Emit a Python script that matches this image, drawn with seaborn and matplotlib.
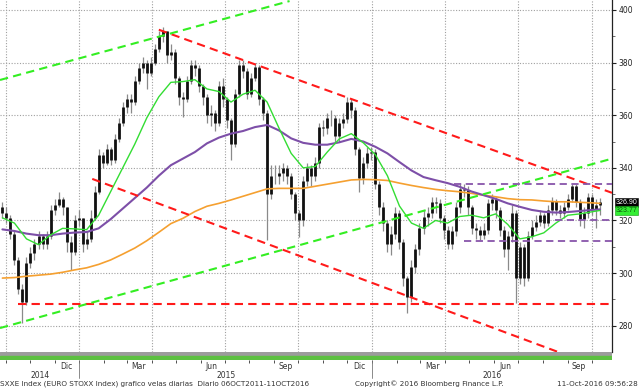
import pandas as pd
import numpy as np
import seaborn as sns
import matplotlib.pyplot as plt
import matplotlib.dates as mdates
from matplotlib import transforms
from matplotlib.lines import Line2D

sns.set_theme(style='white')
plt.rcParams['font.family'] = ['DejaVu Sans']

# candles, one every 5 days up to 11-Oct-2016
close = [323, 321, 315, 305, 294, 289, 304, 307.5, 311, 314,
         311, 314, 324, 326, 328, 325, 312, 308, 320, 321,
         311, 313, 321, 331, 345, 342, 347, 343, 351, 357,
         363, 366, 365, 373, 378, 380, 376, 380, 385, 390,
         392, 383, 384, 374, 367, 366, 373, 379, 378, 371,
         367, 360, 360.7, 357, 371, 366, 358, 349, 368, 379,
         377, 368, 374, 378.5, 366, 361, 330, 337, 337, 338,
         340, 337, 330, 323, 320, 335, 340, 337, 341.7, 355.6,
         355, 359, 359, 352, 357, 358.5, 365, 362, 347, 336,
         342, 345.5, 346, 334, 325, 319, 311, 315, 322.7, 312,
         298, 291, 302.4, 309, 317, 321.4, 323, 327, 326.5, 321,
         316.4, 311, 316, 325, 332, 331.6, 325, 317, 316.4, 314.5,
         316.4, 326.5, 328, 324, 316.5, 309, 314, 323, 298, 310,
         298, 314, 317.6, 319.5, 322, 319, 324, 327.5, 324, 323,
         325.2, 328, 333, 327, 320.5, 322.7, 329, 324.5, 326, 326.9]
high = [327, 325, 322, 316, 306, 296, 306, 310, 313, 316,
        315, 316, 326, 328, 331, 329, 325, 314, 322, 324,
        321, 316, 324, 333, 347, 346, 349, 348, 353, 359,
        365, 368, 368, 375, 380, 382, 381, 382, 387, 392,
        393.5, 392, 387, 385, 375, 369, 375, 381, 381, 379,
        372, 368, 364, 362, 373, 374, 367, 359, 370, 381,
        381, 378, 376, 380, 379, 367, 362, 341, 341, 341,
        342, 341, 338, 331, 324, 337, 342, 341, 344, 357,
        358, 361, 362, 360, 359, 361, 366.8, 366, 363, 348,
        344, 348, 348, 347, 335, 327, 320, 318, 325, 324,
        313, 299, 305, 311, 319, 324, 325, 329, 329, 328,
        322, 318, 318, 327, 334, 334, 333, 326, 319, 318,
        319, 328, 330, 329, 325, 318, 316, 326, 324, 312,
        311, 316, 320, 322, 324, 323, 326, 329, 328, 326,
        327, 330, 334, 334, 328, 325, 330.5, 330, 328, 328.5]
low = [321, 319, 313, 303, 292, 281, 288, 302, 305, 309,
       309, 309, 313, 322, 325, 322, 308, 301, 307, 318,
       308, 309, 312, 320, 330, 340, 341, 341, 342, 350,
       356, 361, 361, 364, 372, 376, 370, 375, 379, 384,
       388, 380, 381, 372, 364, 359.5, 365, 372, 375, 369,
       364, 357, 356, 354, 356, 363, 355, 343, 348, 367,
       374, 366, 367, 373, 364, 358, 312.5, 328, 334, 334,
       335, 334, 328, 320, 313.8, 318, 333, 333, 335, 340,
       352, 353, 356, 350, 350, 355, 357, 359, 345, 331,
       334, 340, 343, 332, 322, 316, 308, 307, 313, 309,
       295, 284.7, 289, 300, 307, 315, 318, 321, 323, 319,
       313, 309, 309, 314, 323, 329, 322, 315, 313, 312.5,
       313, 315, 324, 321, 314, 306, 301, 312, 288.5, 296,
       295, 297, 313, 316, 318, 317, 318, 322, 322, 321,
       321, 324, 327, 325, 318, 317, 321, 322, 317, 322]
first_open = 325.0

# moving averages, read every third candle plus the last one
ma_green = [321, 319, 313, 310.8, 314.5, 317, 316.8, 316.5, 322, 331,
            340, 349, 359, 367, 372.5, 372.8, 373.5, 370, 369, 365,
            368, 369.5, 365, 355, 345.5, 340, 340.5, 346, 351, 353,
            349.5, 345, 337, 325.5, 319, 317, 320, 319, 321.5, 322,
            321, 322.5, 318.5, 313, 313.8, 315.3, 319, 322, 322.5, 323.3,
            323.8]
ma_purple = [316.6, 316, 315, 314.4, 314.4, 315, 315.4, 315.6, 317, 320.5,
             324.5, 328.5, 332.5, 337, 341, 343.5, 346, 349.3, 351.5, 353,
             354, 355.5, 356.3, 354.2, 351.2, 349.5, 348.8, 348.8, 349.7, 351,
             350, 348, 345.5, 342.2, 339, 336.5, 335.3, 334.2, 332.8, 331,
             329.6, 328.2, 326.5, 325.2, 324, 323.3, 323, 323.2, 323.6, 324,
             324.2]
ma_orange = [298.1, 298.3, 298.8, 299.2, 299.6, 300.3, 301.2, 302, 303.3, 305,
             307.2, 309.5, 312.3, 315.5, 318.8, 320.8, 323.4, 325.4, 326.5, 327.8,
             329.2, 330.6, 332, 332.2, 332.2, 332.2, 333, 333.8, 334.6, 335.4,
             335.6, 335.5, 335.2, 334.2, 333.3, 332.5, 331.8, 331.3, 330.9, 330.3,
             329.6, 329, 328.3, 327.9, 327.8, 327.4, 327.1, 327.1, 326.9, 326.7,
             326.5]

# hand drawn trend lines: (start date, start value, end date, end value)
trend_red = [('2015-04-10', 392.5, '2016-10-26', 330.5),
             ('2015-01-17', 335.8, '2016-10-26', 262.4),
             ('2014-10-17', 288.3, '2016-10-26', 288.3)]
trend_green = [('2014-09-24', 373.4, '2015-09-20', 403.4),
               ('2014-09-24', 279.1, '2016-10-26', 343.5)]
trend_purple = [('2016-04-12', 333.8, '2016-10-26', 333.8),
                ('2016-08-16', 320.0, '2016-10-26', 320.0),
                ('2016-04-25', 312.3, '2016-10-26', 312.3)]

month_ticks = ['2014-12-16', '2015-03-16', '2015-06-15', '2015-09-15',
               '2015-12-16', '2016-03-16', '2016-06-15', '2016-09-15']
month_labels = ['Dic', 'Mar', 'Jun', 'Sep', 'Dic', 'Mar', 'Jun', 'Sep']
years = [2014, 2015, 2016]
last_price = 326.90
last_green = 323.77

x_start, x_end = pd.Timestamp('2014-09-24'), pd.Timestamp('2016-10-26')
dates = pd.date_range(end='2016-10-11', periods=len(close), freq='5D')
ma_idx = list(range(0, len(close), 3)) + [len(close) - 1]
ma_df = pd.DataFrame({'date': dates[ma_idx], 'green': ma_green,
                      'purple': ma_purple, 'orange': ma_orange})

opens = np.array([first_open] + close[:-1])
closes = np.array(close)

fig = plt.figure(figsize=(6.4, 3.89), dpi=100)
H = 389
ax = fig.add_axes([0, 37 / H, 612 / 640, 352 / H])
ax.set_xlim(x_start, x_end)
ax.set_ylim(270.0, 403.8)

# grid
grid_kw = dict(color='#a0a0a0', lw=0.8, ls=(0, (1, 1.5)), zorder=0)
for v in range(280, 401, 20):
    ax.axhline(v, **grid_kw)
for d in pd.date_range('2014-10-01', '2016-10-01', freq='QS'):
    ax.axvline(d, **grid_kw)

# candles
ax.vlines(dates, low, high, color='#8a8a8a', lw=0.9, zorder=2)
ax.vlines(dates, np.minimum(opens, closes), np.maximum(opens, closes),
          color='#111111', lw=2.0, zorder=2)

# moving averages
sns.lineplot(data=ma_df, x='date', y='orange', ax=ax, color='#f5a030',
             lw=1.2, sort=False, estimator=None, zorder=3)
sns.lineplot(data=ma_df, x='date', y='purple', ax=ax, color='#7d4fa8',
             lw=1.5, sort=False, estimator=None, zorder=3)
sns.lineplot(data=ma_df, x='date', y='green', ax=ax, color='#33dd33',
             lw=1.0, sort=False, estimator=None, zorder=3)

for lines, col, lw in [(trend_red, '#ff1a1a', 1.5), (trend_green, '#33ee22', 1.5),
                       (trend_purple, '#8855aa', 1.3)]:
    for d0, v0, d1, v1 in lines:
        ax.plot([pd.Timestamp(d0), pd.Timestamp(d1)], [v0, v1], color=col,
                lw=lw, ls=(0, (4, 2.5)), zorder=4)

ax.set_xlabel('')
ax.set_ylabel('')
for s in ['left', 'top', 'bottom']:
    ax.spines[s].set_visible(False)
ax.spines['right'].set_color('#222222')
ax.spines['right'].set_linewidth(0.9)
ax.set_xticks([])
ax.yaxis.tick_right()
ax.set_yticks(range(280, 401, 20))
ax.set_yticks(range(290, 400, 20), minor=True)
ax.tick_params(axis='y', which='major', labelsize=5.5, length=3, width=0.8,
               pad=1.5, colors='#222222', right=True)
ax.tick_params(axis='y', which='minor', length=2, width=0.6, colors='#555555',
               right=True)

lab_tr = transforms.blended_transform_factory(ax.transAxes, ax.transData)
lab_font = ['Liberation Sans', 'DejaVu Sans']
ax.text(1.006, last_price, f'{last_price:.2f}', transform=lab_tr, fontsize=5,
        family=lab_font, color='white', va='center', ha='left',
        bbox=dict(boxstyle='square,pad=0.12', fc='black', ec='black', lw=0.4))
ax.text(1.006, last_green, f'{last_green:.2f}', transform=lab_tr, fontsize=5,
        family=lab_font, color='#0a5a0a', va='center', ha='left',
        bbox=dict(boxstyle='square,pad=0.12', fc='#33ee33', ec='#119911', lw=0.4))

# time bar under the chart
axb = fig.add_axes([0, (H - 360) / H, 612 / 640, 8 / H])
axb.set_xlim(x_start, x_end)
axb.set_ylim(0, 1)
axb.axhspan(0.45, 1, color='#9c9c9c')
axb.axhspan(0, 0.45, color='#5cc040')
for s in axb.spines.values():
    s.set_visible(False)
axb.set_yticks([])
axb.set_xticks(pd.to_datetime(month_ticks))
axb.set_xticklabels(month_labels)
axb.xaxis.set_minor_locator(mdates.MonthLocator())
axb.tick_params(axis='x', which='major', length=0, pad=1.5, labelsize=5.5,
                colors='#333333')
axb.tick_params(axis='x', which='minor', length=2.5, width=0.6, color='#333333',
                bottom=True)

yr_tr = transforms.blended_transform_factory(axb.transData, fig.transFigure)
for y in years:
    a = max(pd.Timestamp(f'{y}-01-01'), x_start)
    b = min(pd.Timestamp(f'{y + 1}-01-01'), x_end)
    fig.text(mdates.date2num(a + (b - a) / 2), 1 - 375 / H, str(y), transform=yr_tr,
             fontsize=5.5, color='#333333', ha='center', va='center')
    if y > years[0]:
        fig.add_artist(Line2D([mdates.date2num(pd.Timestamp(f'{y}-01-01'))] * 2,
                              [1 - 361 / H, 1 - 378 / H], transform=yr_tr,
                              color='#777777', lw=0.6))

fig.text(0.0, 1 - 384 / H,
         'SXXE Index (EURO STOXX Index) grafico velas diarias  Diario 06OCT2011-11OCT2016',
         fontsize=5.2, color='#333333', va='center', ha='left')
fig.text(355 / 640, 1 - 384 / H, 'Copyright\u00a9 2016 Bloomberg Finance L.P.',
         fontsize=5.2, color='#333333', va='center', ha='left')
fig.text(638 / 640, 1 - 384 / H, '11-Oct-2016 09:56:28',
         fontsize=5.2, color='#333333', va='center', ha='right')

fig.savefig('out.png', dpi=100, facecolor='white')
